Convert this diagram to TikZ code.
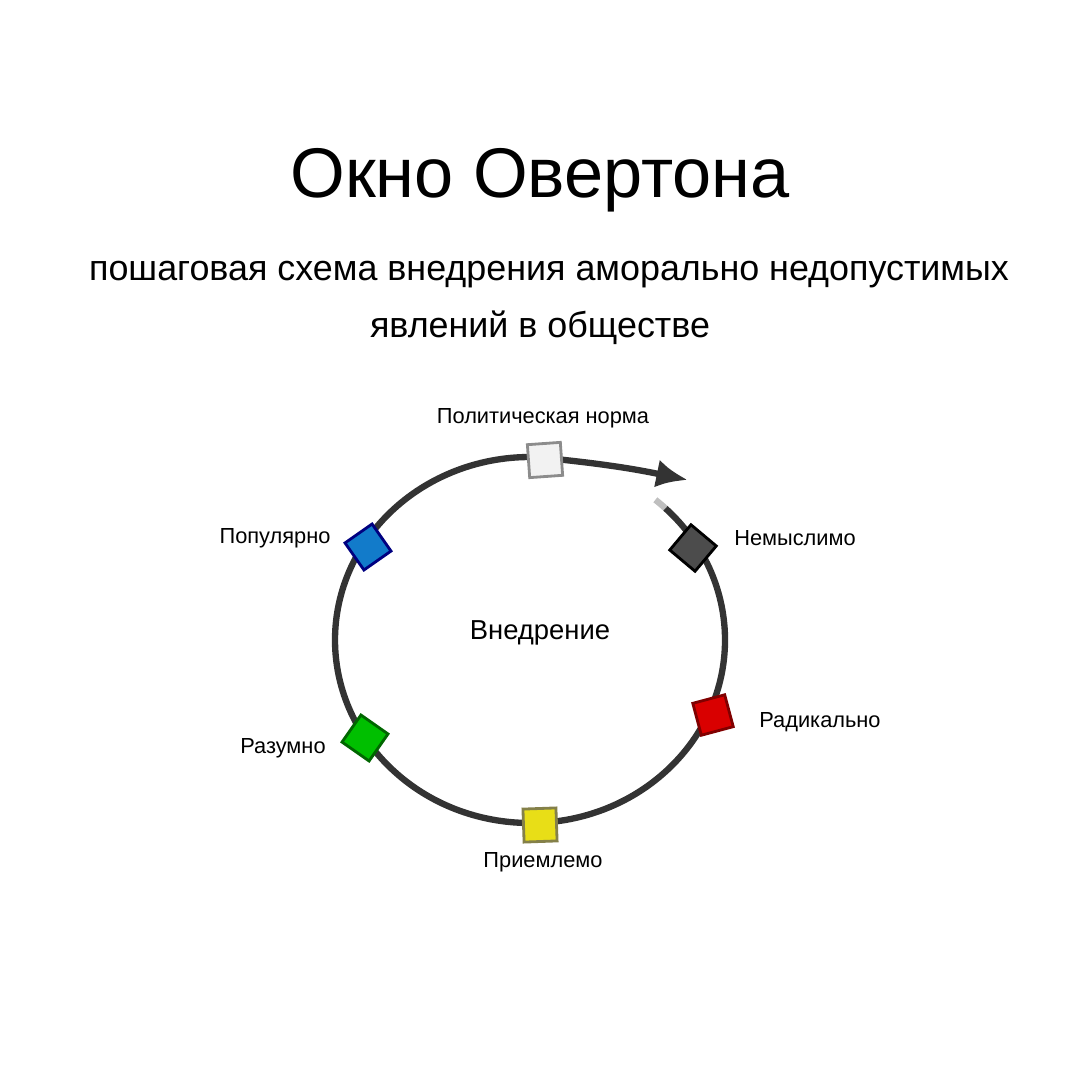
\documentclass[tikz,border=0pt]{standalone}
\usepackage{fontspec}
\setmainfont{Liberation Sans}
\usetikzlibrary{positioning,arrows.meta}
\begin{document}
\begin{tikzpicture}[x=0.01cm,y=-0.01cm,
 stage/.style 2 args={draw=#2, fill=#1, minimum size=0.33cm, inner sep=0pt, line width=0.8pt},
 lbl/.style={font=\fontsize{6.2}{7}\selectfont},
 ring/.style={line width=1.8pt, draw=black!80}]
 \useasboundingbox (0,0) rectangle (1080,1080);
 \node (title) at (540,180) {\fontsize{20}{24}\selectfont Окно Овертона};
 \node (sub1) at (549,275) {\fontsize{10.2}{12}\selectfont пошаговая схема внедрения аморально недопустимых};
 \node (sub2) at (540,328) {\fontsize{10.2}{12}\selectfont явлений в обществе};
 % ring
 \draw[ring, draw=black!25] (530,640) ++(-50:195 and 183) arc (-50:-46:195 and 183);
 \draw[ring] (530,640) ++(-46:195 and 183) arc (-46:272:195 and 183) coordinate (top);
 \coordinate (tip) at (688,480);
 \draw[ring, -{Latex[length=9pt,width=8pt]}] (top) to[bend left=3] (tip);
 % stages
 \node[stage={black!5}{black!45}, rotate=4] (norm) at (545,460) {};
 \node[stage={black!70}{black}, rotate=-40] (unth) at (693,548) {};
 \node[stage={red!85!black}{red!50!black}, rotate=15] (rad) at (713,715) {};
 \node[stage={yellow!90!black}{yellow!45!black}, rotate=2] (acc) at (540,825) {};
 \node[stage={green!75!black}{green!40!black}, rotate=-35] (reas) at (365,738) {};
 \node[stage={cyan!60!blue}{blue!50!black}, rotate=35] (pop) at (368,547) {};
 \node[lbl] at (543,418) {Политическая норма};
 \node[lbl] at (795,538) {Немыслимо};
 \node[lbl] at (820,722) {Радикально};
 \node[lbl] at (543,862) {Приемлемо};
 \node[lbl] at (283,748) {Разумно};
 \node[lbl] at (275,538) {Популярно};
 \node at (540,633) {\fontsize{7.8}{9}\selectfont Внедрение};
\end{tikzpicture}
\end{document}
